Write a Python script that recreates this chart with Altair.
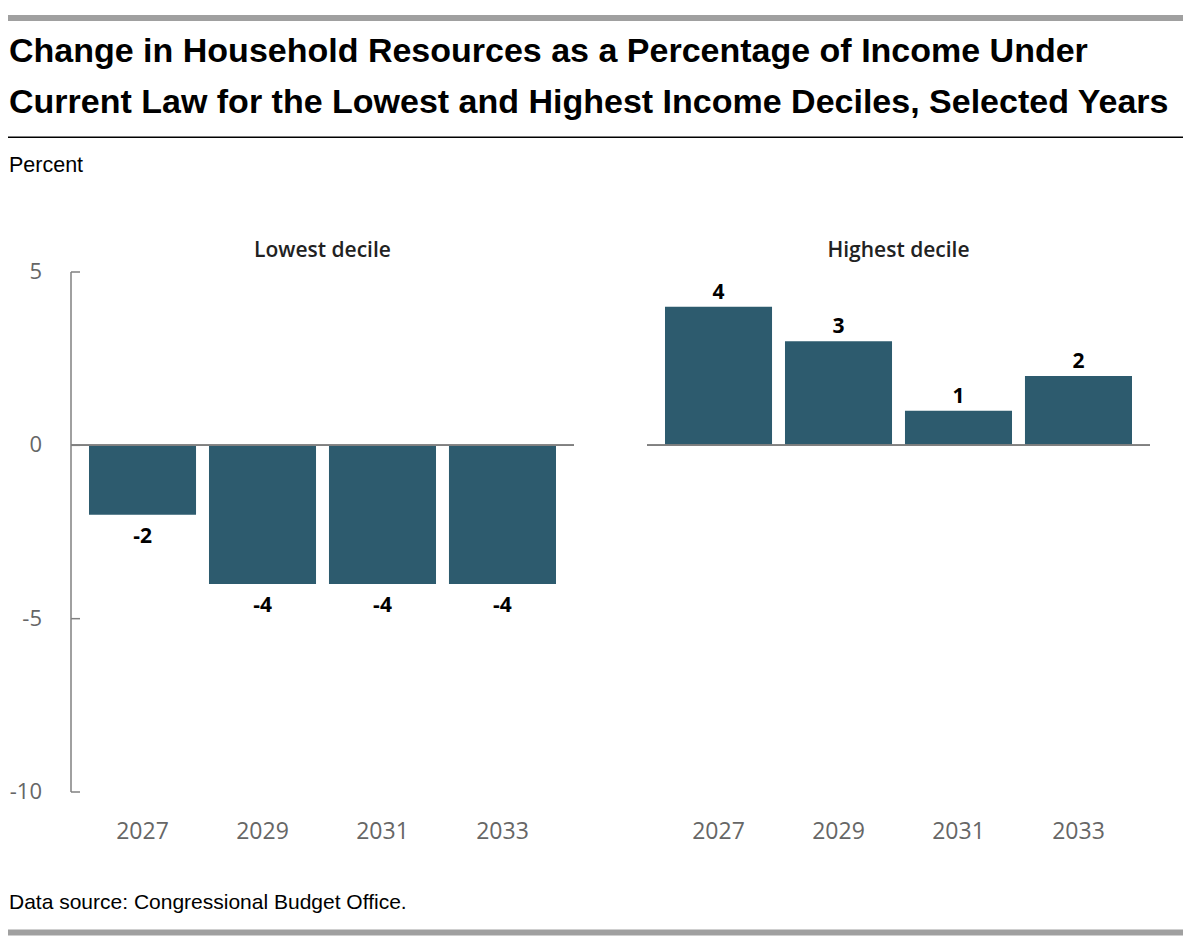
import altair as alt
import pandas as pd

# ---- data ----
years = ["2027", "2029", "2031", "2033"]
lowest_values = [-2, -4, -4, -4]
highest_values = [4, 3, 1, 2]
y_ticks = [5, 0, -5, -10]
title_lines = [
    "Change in Household Resources as a Percentage of Income Under",
    "Current Law for the Lowest and Highest Income Deciles, Selected Years",
]
unit_label = "Percent"
source_note = "Data source: Congressional Budget Office."
panel_titles = ["Lowest decile", "Highest decile"]

# ---- styles ----
BAR = "#2d5b6e"
AXIS_GRAY = "#808080"
RULE_GRAY = "#a0a0a0"
NARROW = "Liberation Sans"
SANS = "Open Sans"

PW, PH = 503, 520
OFF = 63          # width taken by the y-axis labels left of the first plot
RIGHT = 1112      # right end of the header/footer rules, from the plot origin
HH = 232
FH = 95

y_scale = alt.Scale(domain=[-10, 5], nice=False, zero=True)


def panel(values, title, show_axis):
    df = pd.DataFrame({"year": years, "value": values})
    base = alt.Chart(df).transform_calculate(lbl="'' + datum.value")
    x = alt.X(
        "year:N", sort=years, title=None,
        scale=alt.Scale(paddingInner=0.108, paddingOuter=0.15),
        axis=alt.Axis(domain=False, ticks=False, tickSize=0, labelPadding=28, labelAngle=0,
                      labelFont=SANS, labelFontSize=23, labelColor="#666666"),
    )
    y = alt.Y("value:Q", scale=y_scale, axis=None, title=None)

    bars = base.mark_bar(color=BAR).encode(x=x, y=y)
    zero = base.mark_rule(color=AXIS_GRAY, strokeWidth=1.5).encode(
        y=alt.YDatum(0, scale=y_scale, axis=None))
    pos = base.transform_filter("datum.value >= 0").mark_text(
        font=SANS, fontWeight="bold", fontSize=21, baseline="alphabetic", dy=-8, color="black"
    ).encode(x=x, y=y, text="lbl:N")
    neg = base.transform_filter("datum.value < 0").mark_text(
        font=SANS, fontWeight="bold", fontSize=21, baseline="alphabetic", dy=28, color="black"
    ).encode(x=x, y=y, text="lbl:N")
    ttl = alt.Chart(pd.DataFrame({"t": [title]})).mark_text(
        align="center", baseline="alphabetic", font=SANS, fontSize=21, fontWeight=600,
        color="#222222",
    ).encode(x=alt.value(PW / 2), y=alt.value(-15), text="t:N")
    layers = [bars, zero, pos, neg, ttl]
    if show_axis:
        tdf = pd.DataFrame({"tick": y_ticks})
        tbase = alt.Chart(tdf).transform_calculate(tl="'' + datum.tick")
        ty = alt.Y("tick:Q", scale=y_scale, axis=None, title=None)
        # axis line
        layers.append(tbase.mark_rule(color=AXIS_GRAY, strokeWidth=1.5).encode(
            x=alt.value(0), y=alt.Y("max(tick):Q", scale=y_scale, axis=None, title=None),
            y2=alt.Y2("min(tick):Q")))
        # inward ticks
        layers.append(tbase.mark_rule(color=AXIS_GRAY, strokeWidth=1.5).encode(
            y=ty, x=alt.value(0), x2=alt.value(9)))
        # tick labels
        layers.append(tbase.mark_text(
            align="right", baseline="middle", font=SANS, fontSize=22, color="#666666"
        ).encode(y=ty, x=alt.value(-29), text="tl:N"))
    return alt.layer(*layers).properties(width=PW, height=PH)


left = panel(lowest_values, panel_titles[0], True)
right = panel(highest_values, panel_titles[1], False)
panels = alt.hconcat(left, right, spacing=71)

one = pd.DataFrame({"k": [0]})


def text_layer(s, y, size, weight="normal"):
    return alt.Chart(pd.DataFrame({"t": [s]})).mark_text(
        align="left", baseline="alphabetic", font=NARROW, fontSize=size,
        fontWeight=weight, color="black",
    ).encode(x=alt.value(-OFF + 1), y=alt.value(y), text="t:N")


def band(y0, y1, color):
    return alt.Chart(one).mark_rect(color=color).encode(
        x=alt.value(-OFF), x2=alt.value(RIGHT), y=alt.value(y0), y2=alt.value(y1))


header = alt.layer(
    band(7, 13, RULE_GRAY),
    text_layer(title_lines[0], 54, 34, "bold"),
    text_layer(title_lines[1], 105, 34, "bold"),
    band(128.5, 130, "black"),
    text_layer(unit_label, 164, 21.5),
).properties(width=RIGHT, height=HH)

footer = alt.layer(
    text_layer(source_note, 66, 21),
    band(86.5, 92.5, RULE_GRAY),
).properties(width=RIGHT, height=FH)

chart = alt.vconcat(header, panels, footer, spacing=0, padding=0).configure_view(strokeWidth=0)

chart.save("out.html", embed_options={"renderer": "svg", "actions": False})
